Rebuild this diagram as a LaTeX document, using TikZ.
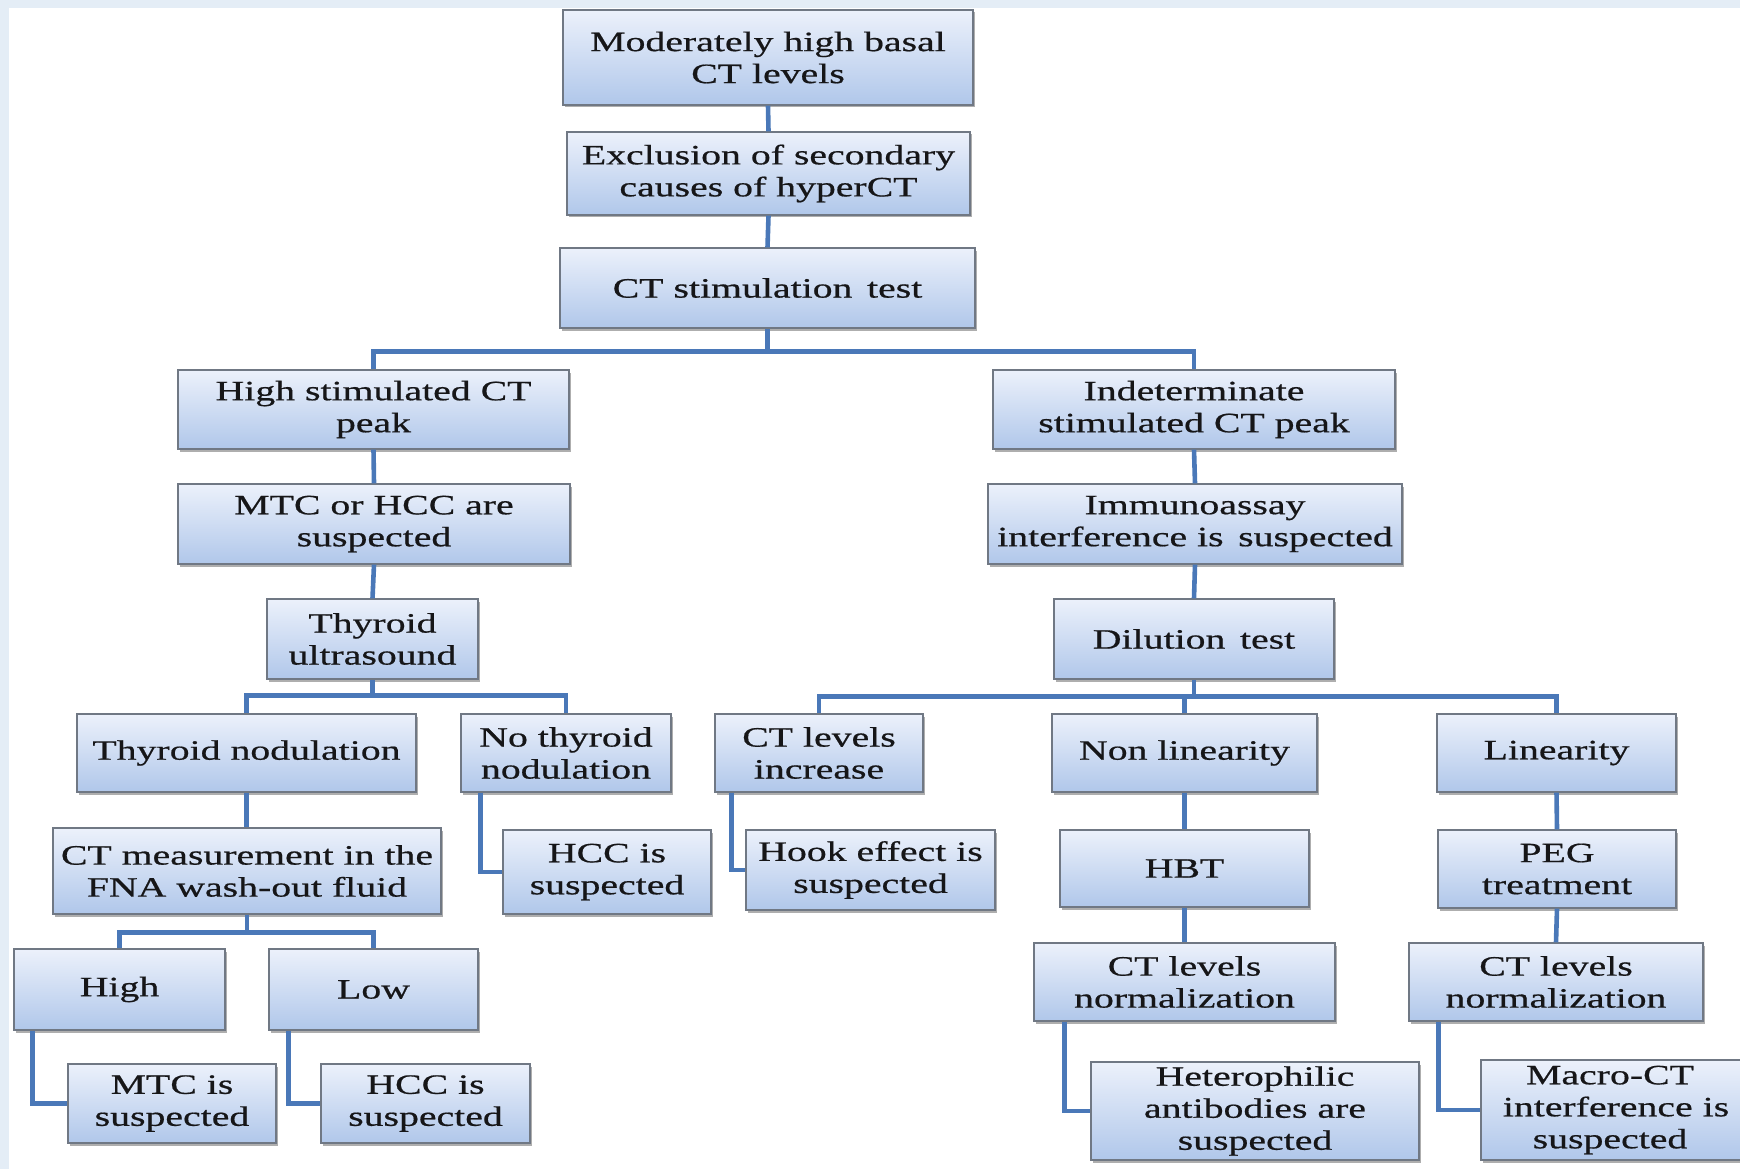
\documentclass[tikz,border=0pt]{standalone}
\usepackage{fontspec}
\setmainfont{Liberation Serif}[FakeStretch=1.42, FakeBold=0.6]
\usetikzlibrary{shadows}
\definecolor{boxtop}{RGB}{236,241,251}
\definecolor{boxbot}{RGB}{176,199,234}
\definecolor{boxedge}{RGB}{112,120,132}
\definecolor{lineblue}{RGB}{74,120,184}
\definecolor{txt}{RGB}{22,22,24}
\definecolor{frameblue}{RGB}{228,237,246}
\tikzset{
  box/.style={draw=boxedge, line width=1.3pt, top color=boxtop, bottom color=boxbot,
    align=center, inner sep=0pt, text=txt,
    font=\fontsize{28}{32}\selectfont,
    drop shadow={shadow xshift=1.5pt, shadow yshift=-2.5pt, opacity=0.45, fill=black!70}},
  conn/.style={draw=lineblue, line width=4.6pt}
}
\newcommand\bx[6]{\node[box, minimum width=#4pt, minimum height=#5pt] (#1) at (#2,#3) {#6};}
\begin{document}
\begin{tikzpicture}[x=1pt, y=-1pt]
\useasboundingbox (0,0) rectangle (1740,1169);
\fill[white] (0,0) rectangle (1740,1169);
\fill[frameblue] (0,0) rectangle (1740,8);
\fill[frameblue] (0,0) rectangle (9,1169);

\bx{top}{768}{57.5}{410}{95}{Moderately high basal\\CT levels}
\bx{excl}{768.5}{173.5}{403}{83}{Exclusion of secondary\\causes of hyperCT}
\bx{stim}{767.5}{288}{415}{80}{CT stimulation\, test}
\bx{highpeak}{373.5}{409.5}{391}{79}{High stimulated CT\\peak}
\bx{indet}{1194}{409.5}{402}{79}{Indeterminate\\stimulated CT peak}
\bx{mtchcc}{374}{524}{392}{80}{MTC or HCC are\\suspected}
\bx{immuno}{1195}{524}{414}{80}{Immunoassay\\interference is\, suspected}
\bx{thyus}{372.5}{639}{211}{80}{Thyroid\\ultrasound}
\bx{dil}{1194}{639}{280}{80}{Dilution\, test}
\bx{thynod}{246.5}{753}{339}{78}{Thyroid nodulation}
\bx{nothy}{566}{753}{210}{78}{No thyroid\\nodulation}
\bx{ctinc}{819}{753}{208}{78}{CT levels\\increase}
\bx{nonlin}{1184.5}{753}{265}{78}{Non linearity}
\bx{lin}{1556.5}{753}{239}{78}{Linearity}
\bx{ctmeas}{247}{871}{388}{86}{CT measurement in the\\FNA wash-out fluid}
\bx{hccA}{607}{872}{208}{84}{HCC is\\suspected}
\bx{hook}{870.5}{870}{249}{80}{Hook effect is\\suspected}
\bx{hbt}{1184.5}{868.5}{249}{77}{HBT}
\bx{peg}{1557}{869}{238}{78}{PEG\\treatment}
\bx{high}{119.5}{989.5}{211}{81}{High}
\bx{low}{373.5}{989.5}{209}{81}{Low}
\bx{normA}{1184.5}{982}{301}{78}{CT levels\\normalization}
\bx{normB}{1556}{982}{294}{78}{CT levels\\normalization}
\bx{mtc}{172}{1103.5}{208}{79}{MTC is\\suspected}
\bx{hccB}{425.5}{1103.5}{209}{79}{HCC is\\suspected}
\bx{hetero}{1255}{1111}{328}{98}{Heterophilic\\antibodies are\\suspected}
\bx{macro}{1616}{1110}{270}{100}{Macro-CT\hspace*{12pt}\\interference is\hspace*{12pt}\\suspected\hspace*{12pt}}

% connectors between boxes
\draw[conn] (top.south) -- (excl.north);
\draw[conn] (excl.south) -- (stim.north);
\draw[conn] (stim.south) -- ++(0,23) coordinate (b1) -| (highpeak.north);
\draw[conn] (b1) -| (indet.north);
\draw[conn] (highpeak.south) -- (mtchcc.north);
\draw[conn] (mtchcc.south) -- (thyus.north);
\draw[conn] (thyus.south) -- ++(0,16) coordinate (b2) -| (thynod.north);
\draw[conn] (b2) -| (nothy.north);
\draw[conn] (thynod.south) -- (thynod.south |- ctmeas.north);
\draw[conn] (ctmeas.south) -- ++(0,18) coordinate (b3) -| (high.north);
\draw[conn] (b3) -| (low.north);
\draw[conn] ([xshift=19pt]high.south west) |- (mtc.west);
\draw[conn] ([xshift=20pt]low.south west) |- (hccB.west);
\draw[conn] ([xshift=20pt]nothy.south west) |- (hccA.west);
\draw[conn] (indet.south) -- (immuno.north);
\draw[conn] (immuno.south) -- (dil.north);
\draw[conn] (dil.south) -- ++(0,17) coordinate (b4) -| (ctinc.north);
\draw[conn] (b4) -| (nonlin.north);
\draw[conn] (b4) -| (lin.north);
\draw[conn] ([xshift=17pt]ctinc.south west) |- (hook.west);
\draw[conn] (nonlin.south) -- (hbt.north);
\draw[conn] (hbt.south) -- (normA.north);
\draw[conn] ([xshift=31pt]normA.south west) |- (hetero.west);
\draw[conn] (lin.south) -- (peg.north);
\draw[conn] (peg.south) -- (normB.north);
\draw[conn] ([xshift=30pt]normB.south west) |- (macro.west);
\end{tikzpicture}
\end{document}
